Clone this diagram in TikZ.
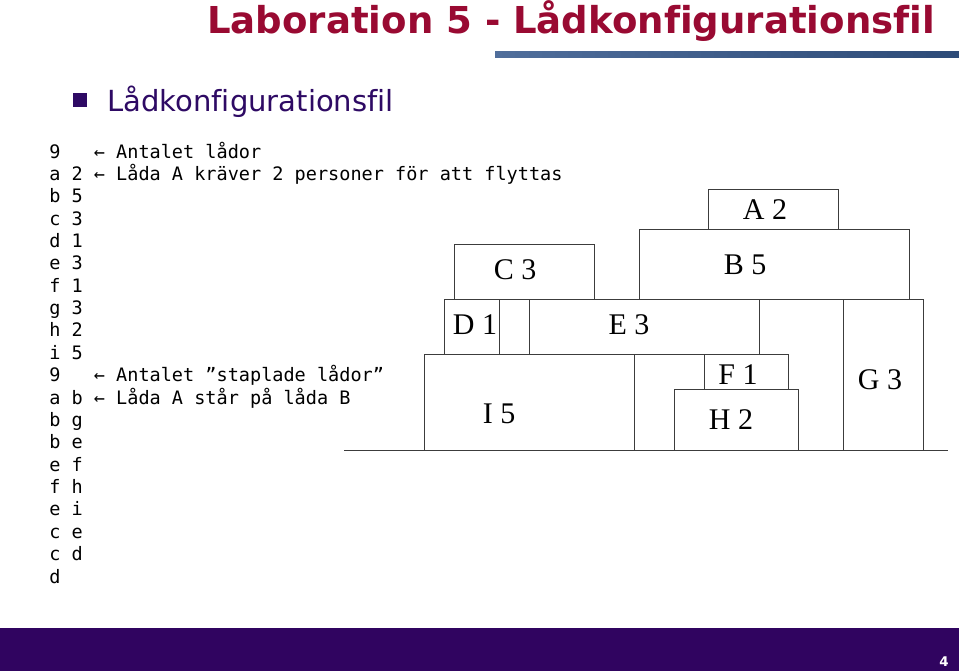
\documentclass[tikz,border=0pt]{standalone}
\usepackage{fontspec}
\setmainfont{Liberation Serif}
\newfontfamily\dvsans[Ligatures=NoCommon]{DejaVu Sans}
\newfontfamily\dvmono{DejaVu Sans Mono}
\definecolor{titlered}{RGB}{153,10,50}
\definecolor{darkpurple}{RGB}{46,10,100}
\definecolor{barpurple}{RGB}{48,4,96}
\definecolor{barblueA}{RGB}{80,110,155}
\definecolor{barblueB}{RGB}{45,75,120}
\definecolor{boxgray}{RGB}{60,60,60}
\tikzset{
  boxline/.style={draw=boxgray, line width=0.75pt},
  boxlabel/.style={font=\fontsize{22.5pt}{24pt}\selectfont, inner sep=0pt, anchor=center},
  monoline/.style={font=\dvmono\fontsize{13.9pt}{16pt}\selectfont, inner sep=0pt, anchor=base west}
}
\begin{document}
\begin{tikzpicture}[x=0.75pt,y=-0.75pt]
\useasboundingbox (0,0) rectangle (959,671);
\fill[white] (0,0) rectangle (959,671);
% title
\node[font=\dvsans\bfseries\fontsize{27.8pt}{30pt}\selectfont, text=titlered, inner sep=0pt, anchor=base west] (title) at (207,33) {Laboration 5 - Lådkonfigurationsfil};
\shade[left color=barblueA, right color=barblueB] (495,51) rectangle (959,57);
% bullet
\fill[darkpurple] (73,93) rectangle (87,107);
\node[font=\dvsans\fontsize{21.8pt}{24pt}\selectfont, text=darkpurple, inner sep=0pt, anchor=base west] (sub) at (107,111) {Lådkonfigurationsfil};
% mono text
\foreach \t [count=\i from 0] in {
 {9\ \ \ ← Antalet lådor},
 {a 2 ← Låda A kräver 2 personer för att flyttas},
 {b 5},{c 3},{d 1},{e 3},{f 1},{g 3},{h 2},{i 5},
 {9\ \ \ ← Antalet ”staplade lådor”},
 {a b ← Låda A står på låda B},
 {b g},{b e},{e f},{f h},{e i},{c e},{c d},{d}}
 { \node[monoline] (line\i) at (49,{158+\i*22.37}) {\t}; }
% boxes
\draw[boxline] (708,189) rectangle (838,229);
\draw[boxline] (639,229) rectangle (909,299);
\draw[boxline] (454,244) rectangle (594,299);
\draw[boxline] (444,299) -- (923,299);
\draw[boxline] (444,299) rectangle (499,354);
\draw[boxline] (529,299) -- (529,354);
\draw[boxline] (759,299) -- (759,354);
\draw[boxline] (843,299) rectangle (923,450);
\draw[boxline] (424,354) -- (788,354);
\draw[boxline] (424,354) rectangle (634,450);
\draw[boxline] (704,354) rectangle (788,389);
\draw[boxline] (674,389) rectangle (798,450);
\draw[boxline] (344,450) -- (948,450);
\node[boxlabel] (la) at (765,210) {A 2};
\node[boxlabel] (lb) at (745,265) {B 5};
\node[boxlabel] (lc) at (515,270) {C 3};
\node[boxlabel] (ld) at (475,325) {D 1};
\node[boxlabel] (le) at (629,325) {E 3};
\node[boxlabel] (lf) at (738,375) {F 1};
\node[boxlabel] (lg) at (880,380) {G 3};
\node[boxlabel] (lh) at (731,420) {H 2};
\node[boxlabel] (li) at (499,414) {I 5};
% bottom bar
\fill[barpurple] (0,628) rectangle (959,671);
\node[font=\dvsans\bfseries\fontsize{10pt}{12pt}\selectfont, text=white, inner sep=0pt] (pg) at (944,662) {4};
\end{tikzpicture}
\end{document}
